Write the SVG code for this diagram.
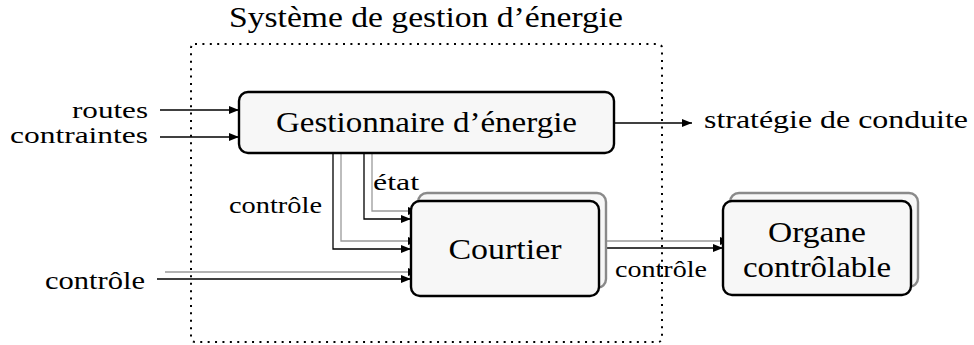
<svg xmlns="http://www.w3.org/2000/svg" width="974" height="345" viewBox="0 0 974 345">
<defs>
<style>
text{font-family:"Liberation Serif","Times New Roman","DejaVu Serif",serif;fill:#000}
.big{font-size:30px}
.mid{font-size:26px}
.in{font-size:24px}
.sm{font-size:23px}
.box{fill:#f7f7f7;stroke:#000;stroke-width:2.4}
.shadow{fill:#f7f7f7;stroke:#8a8a8a;stroke-width:2.4}
.bl{fill:none;stroke:#000;stroke-width:1.3}
.gr{fill:none;stroke:#9a9a9a;stroke-width:1.3}
</style>
<marker id="ah" viewBox="0 0 10 8" refX="10" refY="4" markerWidth="10" markerHeight="8" markerUnits="userSpaceOnUse" orient="auto">
<path d="M0,0 L10,4 L0,8 Z" fill="#000"/>
</marker>
</defs>
<rect width="974" height="345" fill="#fff"/>
<g id="system">
<rect x="191" y="44" width="471" height="298" rx="4" fill="none" stroke="#000" stroke-width="2" stroke-dasharray="2 5.4"/>
<text class="big" x="426" y="27" text-anchor="middle" textLength="394" lengthAdjust="spacingAndGlyphs">Système de gestion d’énergie</text>
</g>
<g id="connectors">
<path class="bl" d="M160,110 H239" marker-end="url(#ah)"/>
<path class="bl" d="M160,137 H239" marker-end="url(#ah)"/>
<path class="bl" d="M614,123 H692" marker-end="url(#ah)"/>
<path class="gr" d="M372,153 V211 H418" marker-end="url(#ah)"/>
<path class="bl" d="M364,153 V219 H411" marker-end="url(#ah)"/>
<path class="gr" d="M341,153 V241 H418" marker-end="url(#ah)"/>
<path class="bl" d="M333,153 V249 H411" marker-end="url(#ah)"/>
<path class="gr" d="M165,272 H418" marker-end="url(#ah)"/>
<path class="bl" d="M157,279 H411" marker-end="url(#ah)"/>
<path class="gr" d="M606,241 H730" marker-end="url(#ah)"/>
<path class="bl" d="M599,248 H723" marker-end="url(#ah)"/>
<text class="sm" x="373" y="190" textLength="46" lengthAdjust="spacingAndGlyphs">état</text>
<text class="sm" x="229" y="213" textLength="93" lengthAdjust="spacingAndGlyphs">contrôle</text>
<text class="sm" x="615" y="277" textLength="92" lengthAdjust="spacingAndGlyphs">contrôle</text>
</g>
<g id="inputs">
<text class="in" x="148" y="118" text-anchor="end" textLength="76" lengthAdjust="spacingAndGlyphs">routes</text>
<text class="in" x="148" y="143" text-anchor="end" textLength="138" lengthAdjust="spacingAndGlyphs">contraintes</text>
<text class="mid" x="145" y="289" text-anchor="end" textLength="100" lengthAdjust="spacingAndGlyphs">contrôle</text>
</g>
<g id="output">
<text class="mid" x="704" y="128" textLength="264" lengthAdjust="spacingAndGlyphs">stratégie de conduite</text>
</g>
<g id="gestionnaire">
<rect class="box" x="239" y="92" width="375" height="61" rx="9"/>
<text class="big" x="426.5" y="132" text-anchor="middle" textLength="301" lengthAdjust="spacingAndGlyphs">Gestionnaire d’énergie</text>
</g>
<g id="courtier">
<rect class="shadow" x="418" y="193" width="188" height="95" rx="9"/>
<rect class="box" x="411" y="201" width="188" height="95" rx="9"/>
<text class="big" x="505" y="259" text-anchor="middle" textLength="113" lengthAdjust="spacingAndGlyphs">Courtier</text>
</g>
<g id="organe">
<rect class="shadow" x="730" y="193" width="188" height="94" rx="9"/>
<rect class="box" x="723" y="201" width="188" height="94" rx="9"/>
<text class="big" x="817" y="242" text-anchor="middle" textLength="98" lengthAdjust="spacingAndGlyphs">Organe</text>
<text class="big" x="817" y="277" text-anchor="middle" textLength="148" lengthAdjust="spacingAndGlyphs">contrôlable</text>
</g>
</svg>
